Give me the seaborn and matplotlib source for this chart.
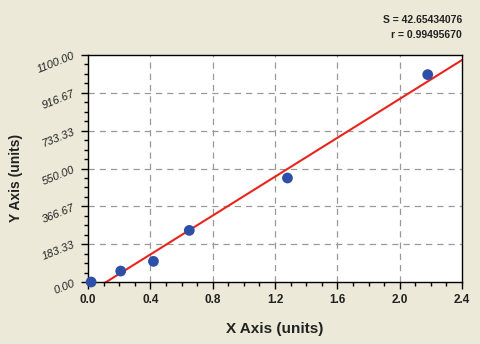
import matplotlib
matplotlib.use("Agg")
import matplotlib.pyplot as plt
import seaborn as sns
import numpy as np
import pandas as pd
from matplotlib.ticker import MultipleLocator, FixedLocator

# Data
x_vals = [0.02, 0.21, 0.42, 0.65, 1.28, 2.18]
y_vals = [0, 53, 100, 250, 504, 1005]
x_ticks = [0.0, 0.4, 0.8, 1.2, 1.6, 2.0, 2.4]
y_ticks = [0.0, 183.33, 366.67, 550.0, 733.33, 916.67, 1100.0]
y_tick_labels = ["0.00", "183.33", "366.67", "550.00", "733.33", "916.67", "1100.00"]
stats_text = ["S = 42.65434076", "r = 0.99495670"]

sns.set_style("white")
plt.rcParams['font.family'] = ['Liberation Sans', 'DejaVu Sans']

bg = "#ECE9D8"
fig = plt.figure(figsize=(4.81, 3.44), dpi=100, facecolor=bg)
ax = fig.add_axes([88/481, 1-282/344, (462-88)/481, (282-55)/344])
ax.set_facecolor("white")
ax.set_xlim(0, 2.4)
ax.set_ylim(0, 1100)

df = pd.DataFrame({"x": x_vals, "y": y_vals})
sns.regplot(data=df, x="x", y="y", ax=ax, ci=None, truncate=False,
            scatter_kws=dict(s=60, color="#2E4FA8", alpha=1.0, edgecolor="none", zorder=3, clip_on=False),
            line_kws=dict(color="#E8251C", lw=1.5, zorder=2))

ax.set_xlim(0, 2.4)
ax.set_ylim(0, 1100)
ax.xaxis.set_major_locator(FixedLocator(x_ticks))
ax.xaxis.set_minor_locator(MultipleLocator(0.1))
ax.yaxis.set_major_locator(FixedLocator(y_ticks))
ax.yaxis.set_minor_locator(MultipleLocator(1100/24))
ax.set_xticklabels([f"{t:.1f}" for t in x_ticks], fontsize=8.5, fontweight="bold", color="#222222")
ax.set_yticklabels(y_tick_labels, fontsize=8, fontstyle="italic", rotation=22, color="#222222")

ax.tick_params(axis="both", which="major", direction="out", length=5, width=1, color="black")
ax.tick_params(axis="both", which="minor", direction="out", length=3, width=1, color="black")
ax.tick_params(axis="both", which="both", bottom=True, left=True)

for t in x_ticks[1:-1]:
    ax.axvline(t, color="#999999", ls=(0, (5, 4)), lw=0.9, zorder=1)
for t in y_ticks[1:-1]:
    ax.axhline(t, color="#999999", ls=(0, (5, 4)), lw=0.9, zorder=1)

for s in ax.spines.values():
    s.set_color("black")
    s.set_linewidth(1.0)

ax.set_xlabel("X Axis (units)", fontsize=11, fontweight="bold", color="#222222", labelpad=12)
ax.set_ylabel("")
fig.text(16/481, 1-178/344, "Y Axis (units)", rotation=90, ha="center", va="center",
         fontsize=10, fontweight="bold", color="#222222")

fig.text(462/481, 1-20/344, stats_text[0], ha="right", va="center", fontsize=7.5, fontweight="bold", color="#222222")
fig.text(462/481, 1-35/344, stats_text[1], ha="right", va="center", fontsize=7.5, fontweight="bold", color="#222222")

fig.savefig("out.png", dpi=100, facecolor=bg)
